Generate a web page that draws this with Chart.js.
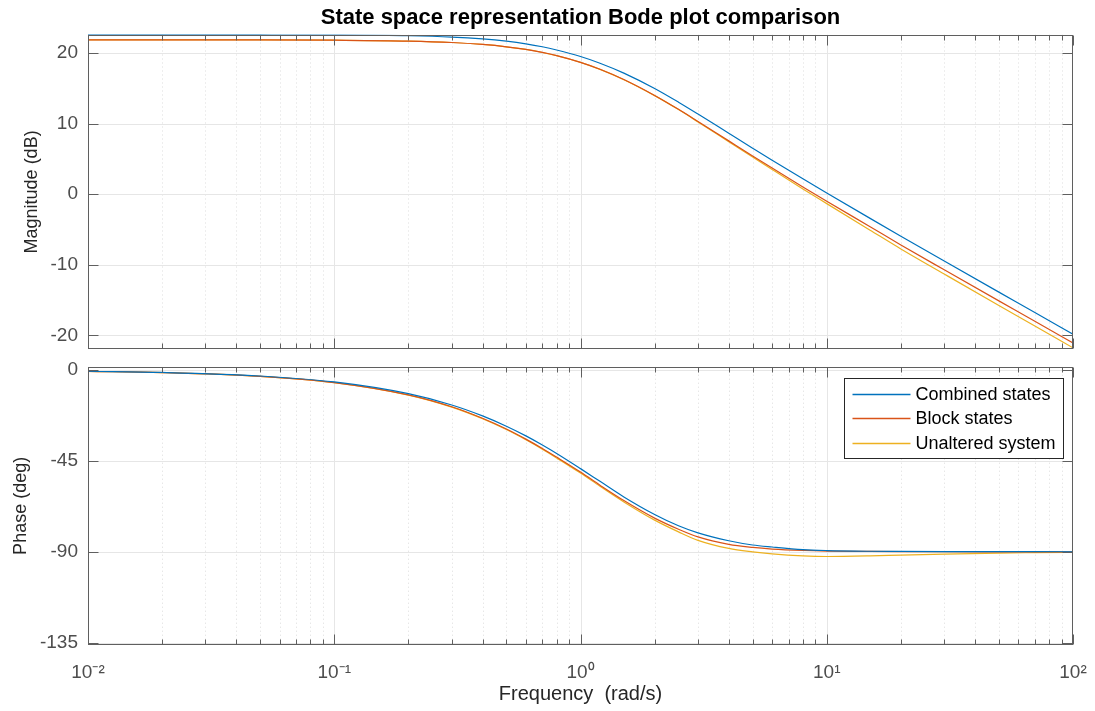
<!DOCTYPE html>
<html>
<head>
<meta charset="utf-8">
<script src="https://cdn.jsdelivr.net/npm/chart.js@4.4.0/dist/chart.umd.min.js"></script>
<style>
  body { margin: 0; background: #fff; }
  #wrap { position: relative; width: 1095px; height: 711px; }
  #magBox { position: absolute; left: 0; top: 0; }
  #phaseBox { position: absolute; left: 0; top: 358px; }
</style>
</head>
<body>
<div id="wrap">
  <div id="magBox"><canvas id="chartMag" width="1095" height="358"></canvas></div>
  <div id="phaseBox"><canvas id="chartPhase" width="1095" height="353"></canvas></div>
</div>
<script>
// frequencies (rad/s) the curves were read at
const freq = [0.01, 0.02, 0.05, 0.1, 0.2, 0.3, 0.4, 0.5, 0.6, 0.7, 0.8, 1, 1.2, 1.5, 2, 2.5, 3, 4, 5, 6, 8, 10, 15, 20, 30, 50, 70, 100];

// magnitude (dB)
const magCombined = [22.60, 22.60, 22.59, 22.56, 22.44, 22.25, 21.99, 21.67, 21.30, 20.88, 20.42, 19.50, 18.55, 17.15, 14.97, 13.03, 11.35, 8.63, 6.52, 4.81, 2.17, 0.16, -3.43, -5.95, -9.47, -13.88, -16.77, -19.85];
const magBlock = [21.86, 21.85, 21.85, 21.81, 21.69, 21.49, 21.21, 20.88, 20.50, 20.08, 19.63, 18.68, 17.70, 16.24, 13.99, 12.02, 10.30, 7.55, 5.42, 3.70, 1.03, -1.00, -4.62, -7.20, -10.72, -15.12, -18.00, -21.08];
const magUnaltered = [21.86, 21.85, 21.85, 21.81, 21.69, 21.49, 21.21, 20.88, 20.50, 20.07, 19.62, 18.67, 17.68, 16.22, 13.96, 11.98, 10.24, 7.44, 5.27, 3.50, 0.74, -1.34, -5.10, -7.76, -11.32, -15.78, -18.68, -21.77];

// phase (deg)
const phaseCombined = [-0.59, -1.18, -2.95, -5.9, -11.7, -17.3, -22.7, -27.8, -32.6, -37.1, -41.3, -48.8, -55.1, -62.8, -71.5, -77.1, -80.6, -84.5, -86.6, -87.6, -88.9, -89.35, -89.7, -89.8, -89.87, -89.9, -89.93, -89.95];
const phaseBlock = [-0.62, -1.25, -3.12, -6.2, -12.3, -18.2, -23.9, -29.2, -34.2, -38.8, -43.1, -50.5, -57.0, -64.6, -73.3, -78.8, -82.6, -86.3, -87.8, -88.6, -89.3, -89.6, -89.8, -89.9, -89.95, -89.97, -89.98, -89.99];
const phaseUnaltered = [-0.63, -1.26, -3.14, -6.25, -12.4, -18.35, -24.1, -29.45, -34.5, -39.15, -43.5, -51.0, -57.55, -65.3, -74.3, -80.1, -84.3, -88.3, -90.0, -91.0, -92.0, -92.3, -92.0, -91.6, -91.1, -90.6, -90.4, -90.2];

const seriesLabels = ["Combined states", "Block states", "Unaltered system"];
const seriesColors = ["#0072BD", "#D95319", "#EDB120"];

const xTicks = [0.01, 0.1, 1, 10, 100];
const xTickLabels = ["10\u207B\u00B2", "10\u207B\u00B9", "10\u2070", "10\u00B9", "10\u00B2"];
const magTicks = [-20, -10, 0, 10, 20];
const phaseTicks = [-135, -90, -45, 0];

const minorX = [];
for (let d = 0; d < 4; d++) {
  for (let m = 2; m < 10; m++) minorX.push(xTicks[d] * m);
}

Chart.defaults.font.family = "'Liberation Sans', Arial, Helvetica, sans-serif";

function makeSets(values) {
  return values.map((vals, i) => ({
    label: seriesLabels[i],
    data: freq.map((f, k) => ({ x: f, y: vals[k] })),
    borderColor: seriesColors[i],
    backgroundColor: seriesColors[i],
    borderWidth: 1.2,
    pointRadius: 0,
    cubicInterpolationMode: "monotone",
    fill: false
  }));
}

function hLine(ctx, x1, x2, y) { ctx.beginPath(); ctx.moveTo(x1, y); ctx.lineTo(x2, y); ctx.stroke(); }
function vLine(ctx, x, y1, y2) { ctx.beginPath(); ctx.moveTo(x, y1); ctx.lineTo(x, y2); ctx.stroke(); }

const matlabBox = {
  id: "matlabBox",
  beforeDatasetsDraw(chart) {
    const { ctx, chartArea: a, scales: { x, y } } = chart;
    ctx.save();
    ctx.beginPath();
    ctx.rect(a.left, a.top, a.right - a.left, a.bottom - a.top);
    ctx.clip();
    ctx.lineWidth = 1;
    ctx.strokeStyle = "#dcdcdc";
    ctx.setLineDash([1, 3]);
    minorX.forEach(v => vLine(ctx, Math.round(x.getPixelForValue(v)) + 0.5, a.top, a.bottom));
    ctx.setLineDash([]);
    ctx.strokeStyle = "#e6e6e6";
    xTicks.forEach(v => vLine(ctx, Math.round(x.getPixelForValue(v)) + 0.5, a.top, a.bottom));
    y.ticks.forEach(t => hLine(ctx, a.left, a.right, Math.round(y.getPixelForValue(t.value)) + 0.5));
    ctx.restore();
  },
  afterDatasetsDraw(chart, args, opts) {
    const { ctx, chartArea: a, scales: { x, y } } = chart;
    ctx.save();
    ctx.lineWidth = 1;
    ctx.strokeStyle = "#5f5f5f";
    const L = Math.round(a.left) + 0.5, R = Math.round(a.right) - 0.5;
    const T = Math.round(a.top) + 0.5, B = Math.round(a.bottom) - 0.5;
    ctx.strokeRect(L, T, R - L, B - T);
    xTicks.forEach(v => {
      const px = Math.round(x.getPixelForValue(v)) + 0.5;
      vLine(ctx, px, T, T + 10);
      vLine(ctx, px, B, B - 10);
    });
    minorX.forEach(v => {
      const px = Math.round(x.getPixelForValue(v)) + 0.5;
      vLine(ctx, px, T, T + 5);
      vLine(ctx, px, B, B - 5);
    });
    y.ticks.forEach(t => {
      const py = Math.round(y.getPixelForValue(t.value)) + 0.5;
      hLine(ctx, L, L + 10, py);
      hLine(ctx, R, R - 10, py);
    });

    if (opts.legend) {
      const bw = 219, bh = 80;
      const bx = Math.round(a.right - 10 - bw) + 0.5;
      const by = Math.round(a.top + 11) + 0.5;
      ctx.fillStyle = "#fff";
      ctx.fillRect(bx, by, bw, bh);
      ctx.strokeStyle = "#262626";
      ctx.strokeRect(bx, by, bw, bh);
      ctx.font = "18px 'Liberation Sans', Arial, sans-serif";
      ctx.textBaseline = "middle";
      chart.data.datasets.forEach((ds, i) => {
        const ly = Math.round(by + 15 + i * 24.5) + 0.5;
        ctx.strokeStyle = seriesColors[i];
        ctx.lineWidth = 1.5;
        hLine(ctx, bx + 8, bx + 66, ly);
        ctx.fillStyle = "#000";
        ctx.fillText(ds.label, bx + 71, ly + 1);
      });
    }
    ctx.restore();
  }
};

function yScale(min, max, ticks, title, titlePad) {
  return {
    type: "linear",
    min, max,
    afterBuildTicks: s => { s.ticks = ticks.map(v => ({ value: v })); },
    afterFit: s => { s.width = 88; s.paddingTop = 0; s.paddingBottom = 0; },
    grid: { display: false, drawTicks: false },
    border: { display: false },
    ticks: { color: "#4d4d4d", padding: 10, font: { size: 19 } },
    title: { display: true, text: title, color: "#262626", font: { size: 18 }, padding: { top: titlePad } }
  };
}

function xScale(showLabels) {
  return {
    type: "logarithmic",
    min: 0.01, max: 100,
    afterBuildTicks: s => { s.ticks = xTicks.map(v => ({ value: v })); },
    afterFit: s => { s.height = showLabels ? 66 : 0; s.paddingLeft = 0; s.paddingRight = 0; },
    grid: { display: false, drawTicks: false },
    border: { display: false },
    ticks: {
      display: showLabels,
      autoSkip: false,
      maxRotation: 0,
      color: "#4d4d4d",
      padding: 16,
      font: { size: 19 },
      callback: (v, i) => xTickLabels[i]
    },
    title: { display: showLabels, text: "Frequency  (rad/s)", color: "#262626", font: { size: 20 }, padding: { bottom: 5 } }
  };
}

new Chart(document.getElementById("chartMag"), {
  type: "line",
  data: { datasets: makeSets([magCombined, magBlock, magUnaltered]) },
  options: {
    responsive: false,
    animation: false,
    devicePixelRatio: 1,
    layout: { padding: { left: 0, right: 22, top: 0, bottom: 8.7 } },
    plugins: {
      legend: { display: false },
      tooltip: { enabled: false },
      title: {
        display: true,
        fullSize: false,
        text: "State space representation Bode plot comparison",
        color: "#000",
        font: { size: 22, weight: "bold" },
        padding: { top: 5, bottom: 3.1 }
      },
      matlabBox: { legend: false }
    },
    scales: {
      x: xScale(false),
      y: yScale(-21.98, 22.62, magTicks, "Magnitude (dB)", 21)
    }
  },
  plugins: [matlabBox]
});

new Chart(document.getElementById("chartPhase"), {
  type: "line",
  data: { datasets: makeSets([phaseCombined, phaseBlock, phaseUnaltered]) },
  options: {
    responsive: false,
    animation: false,
    devicePixelRatio: 1,
    layout: { padding: { left: 0, right: 22, top: 8.7, bottom: 0 } },
    plugins: {
      legend: { display: false },
      tooltip: { enabled: false },
      matlabBox: { legend: true }
    },
    scales: {
      x: xScale(true),
      y: yScale(-136.1, 1.65, phaseTicks, "Phase (deg)", 10)
    }
  },
  plugins: [matlabBox]
});
</script>
</body>
</html>
